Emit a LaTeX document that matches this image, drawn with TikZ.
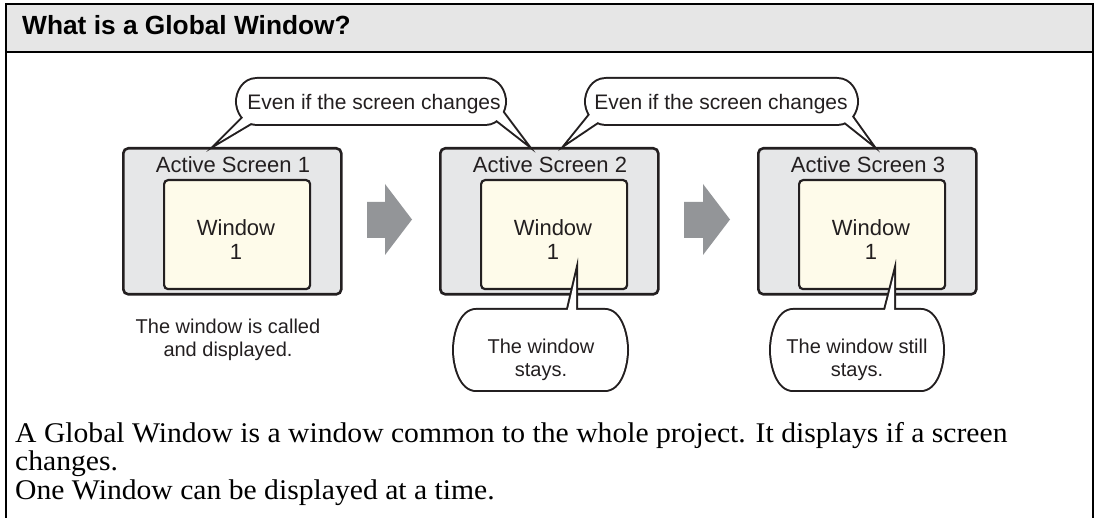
\documentclass[tikz,border=0pt]{standalone}
\usepackage{fontspec}
\setmainfont{Liberation Serif}
\setsansfont{Liberation Sans}
\newfontfamily\bodyserif[FakeStretch=1.04]{Liberation Serif}
\definecolor{headfill}{HTML}{E6E6E6}
\definecolor{screenfill}{HTML}{E6E7E8}
\definecolor{winfill}{HTML}{FEFBEA}
\definecolor{inkline}{HTML}{231F20}
\definecolor{arrowgrey}{HTML}{939598}
\begin{document}
\begin{tikzpicture}[x=1pt,y=-1pt,
  screenbox/.style={draw=inkline, line width=2.6pt, fill=screenfill, rounded corners=5pt,
    inner sep=0pt, anchor=north west, minimum width=218pt, minimum height=146pt},
  winbox/.style={draw=inkline, line width=2.2pt, fill=winfill, rounded corners=4pt,
    inner sep=0pt, anchor=north west, minimum width=146pt, minimum height=109pt},
  scrlabel/.style={font=\sffamily\fontsize{22}{24}\selectfont, text=inkline, inner sep=0pt, anchor=base},
  winlabel/.style={font=\sffamily\fontsize{22}{24}\selectfont, text=inkline, inner sep=0pt, align=center},
  saylabel/.style={font=\sffamily\fontsize{21}{24}\selectfont, text=inkline, inner sep=0pt, anchor=base},
  notelabel/.style={font=\sffamily\fontsize{20}{23}\selectfont, text=inkline, inner sep=0pt, align=center},
  bubbleedge/.style={draw=inkline, line width=4pt},
  bubblefill/.style={fill=white},
  nextarrow/.style={fill=arrowgrey},
  capsule/.style n args={5}{insert path={
    (#1+#5,#2) -- (#3-#5,#2)
    .. controls (#3-0.3*#5,#2) and (#3,#2+0.3*#4-0.3*#2) .. (#3,#2*0.5+#4*0.5)
    .. controls (#3,#4-0.3*#4+0.3*#2) and (#3-0.3*#5,#4) .. (#3-#5,#4)
    -- (#1+#5,#4)
    .. controls (#1+0.3*#5,#4) and (#1,#4-0.3*#4+0.3*#2) .. (#1,#2*0.5+#4*0.5)
    .. controls (#1,#2+0.3*#4-0.3*#2) and (#1+0.3*#5,#2) .. (#1+#5,#2) -- cycle}}
]
\useasboundingbox (0,0) rectangle (1098,518);

% panel frame and title band
\fill[headfill] (6,4) rectangle (1093,52);
\draw[line width=2.8pt] (6,530) -- (6,4) -- (1093,4) -- (1093,530);
\draw[line width=2.6pt] (6,52) -- (1093,52);
\node[anchor=base west, font=\sffamily\bfseries\fontsize{26.3}{28}\selectfont, inner sep=0pt] (title) at (22,35) {What is a Global Window?};

% screens with the global window inside
\node[screenbox] (scr1) at (122,147) {};
\node[screenbox] (scr2) at (439,147) {};
\node[screenbox] (scr3) at (757,147) {};
\node[winbox] (win1) at (163,179) {};
\node[winbox] (win2) at (480,179) {};
\node[winbox] (win3) at (798,179) {};

\node[scrlabel] (scrlbl1) at (233,173) {Active Screen 1};
\node[scrlabel] (scrlbl2) at (550,173) {Active Screen 2};
\node[scrlabel] (scrlbl3) at (868,173) {Active Screen 3};
\node[winlabel] (winlbl1) at (236,240) {Window\\1};
\node[winlabel] (winlbl2) at (553,240) {Window\\1};
\node[winlabel] (winlbl3) at (871,240) {Window\\1};

% transition arrows
\fill[nextarrow] (367,202) -- (385,202) -- (385,184) -- (412,219.5) -- (385,255) -- (385,238) -- (367,238) -- cycle;
\fill[nextarrow] (684,202) -- (703,202) -- (703,184) -- (730,219.5) -- (703,255) -- (703,238) -- (684,238) -- cycle;

% upper speech bubbles: outline pass, then white fill pass
\draw[bubbleedge] [capsule={237}{79}{505}{124}{20}];
\draw[bubbleedge] (219,142) -- (250,111) -- (261,117) -- cycle;
\draw[bubbleedge] (525,142) -- (498,106) -- (489,114) -- cycle;
\draw[bubbleedge] [capsule={586}{79}{857}{124}{20}];
\draw[bubbleedge] (568,142) -- (597,106) -- (608,115) -- cycle;
\draw[bubbleedge] (870,142) -- (845,107) -- (836,115) -- cycle;
\fill[bubblefill] [capsule={237}{79}{505}{124}{20}];
\fill[bubblefill] (219,142) -- (250,111) -- (261,117) -- cycle;
\fill[bubblefill] (525,142) -- (498,106) -- (489,114) -- cycle;
\fill[bubblefill] [capsule={586}{79}{857}{124}{20}];
\fill[bubblefill] (568,142) -- (597,106) -- (608,115) -- cycle;
\fill[bubblefill] (870,142) -- (845,107) -- (836,115) -- cycle;
\node[saylabel] (say1) at (374,110) {Even if the screen changes};
\node[saylabel] (say2) at (721,110) {Even if the screen changes};

% lower speech bubbles
\draw[bubbleedge] [capsule={454}{310}{627}{390}{22}];
\draw[bubbleedge] (576,275) -- (565,322) -- (576,322) -- cycle;
\draw[bubbleedge] [capsule={771}{310}{943}{390}{22}];
\draw[bubbleedge] (894,275) -- (882,322) -- (894,322) -- cycle;
\fill[bubblefill] [capsule={454}{310}{627}{390}{22}];
\fill[bubblefill] (576,275) -- (565,322) -- (576,322) -- cycle;
\fill[bubblefill] [capsule={771}{310}{943}{390}{22}];
\fill[bubblefill] (894,275) -- (882,322) -- (894,322) -- cycle;

\node[notelabel] (note1) at (228,340) {The window is called\\and displayed.};
\node[notelabel] (note2) at (541,360) {The window\\stays.};
\node[notelabel] (note3) at (857,360) {The window still\\stays.};

% explanation text
\node[anchor=north west, font=\bodyserif\fontsize{28.5}{28.5}\selectfont, align=left, inner sep=0pt] (explain) at (15,422)
  {A Global Window is a window common to the whole project. It displays if a screen\\
   changes.\\
   One Window can be displayed at a time.};
\end{tikzpicture}
\end{document}
